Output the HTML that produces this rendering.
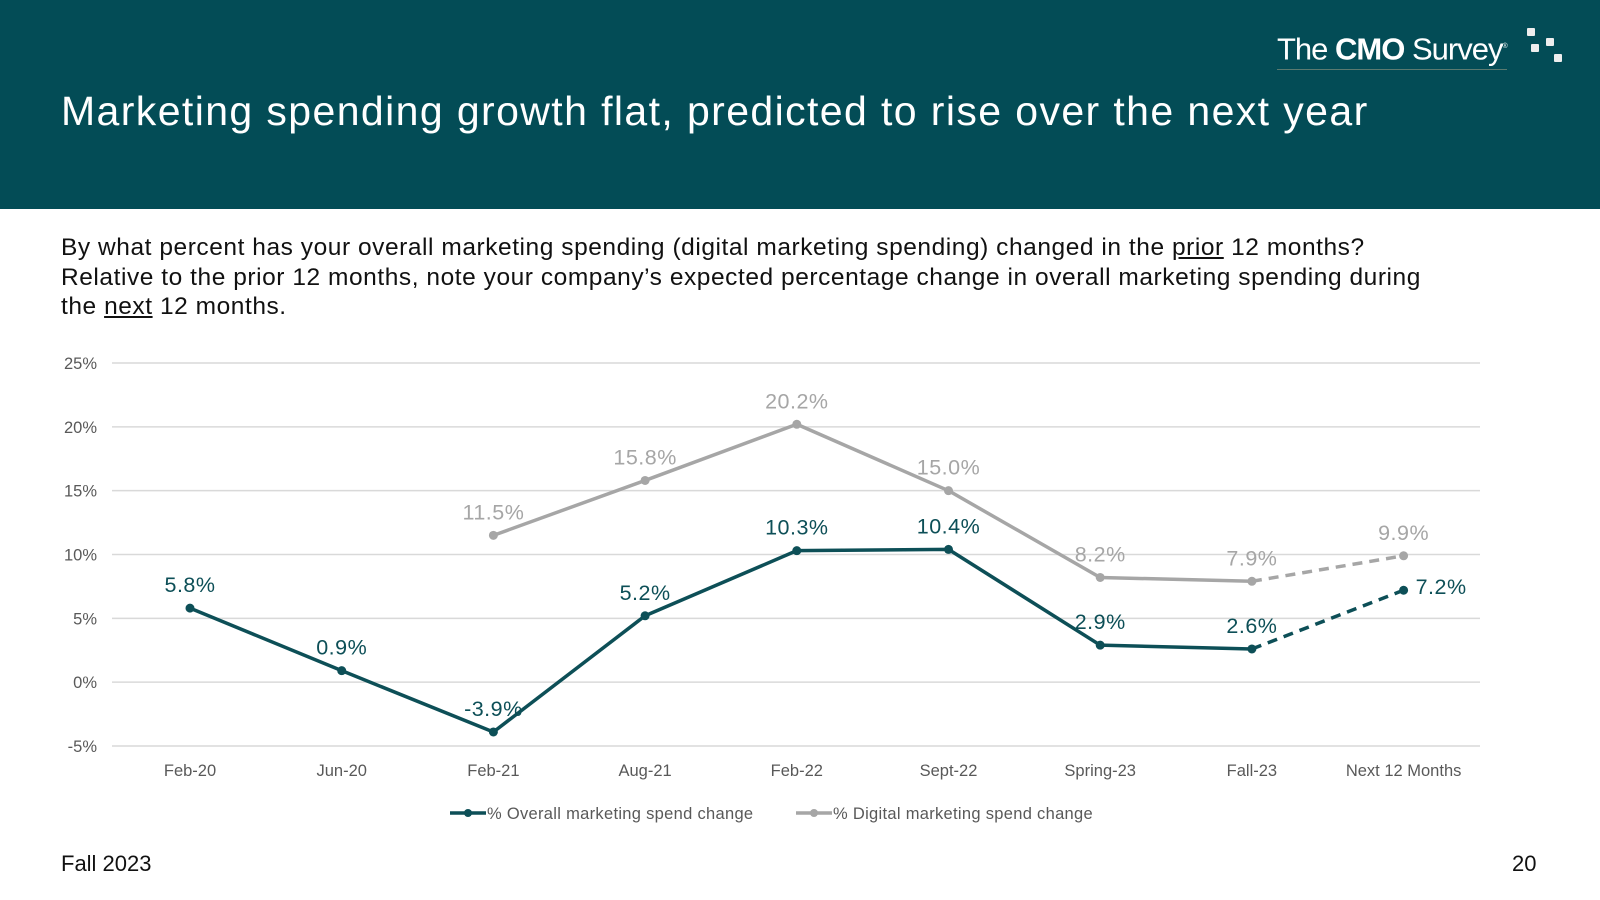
<!DOCTYPE html>
<html><head><meta charset="utf-8"><style>
html,body{margin:0;padding:0;width:1600px;height:900px;overflow:hidden;background:#fff;font-family:"Liberation Sans",sans-serif;}
#hdr{position:absolute;left:0;top:0;width:1600px;height:209px;background:#034c56;}
#title{position:absolute;left:61px;top:88px;color:#fff;font-size:41px;letter-spacing:1.4px;white-space:nowrap;}
#logo{position:absolute;left:1277px;top:27px;color:#fff;font-size:31px;letter-spacing:-1px;white-space:nowrap;border-bottom:1px solid #5a7a70;line-height:40px;}
.sq{position:absolute;background:#eee;width:8px;height:8px;border-radius:1px;}
#q{position:absolute;left:61px;top:233px;font-size:24.5px;letter-spacing:0.55px;line-height:29.5px;color:#111;}
#foot{position:absolute;left:61px;top:851px;font-size:22px;color:#111;}
#pg{position:absolute;left:1512px;top:851px;font-size:22px;color:#111;}
</style></head><body>
<div id="hdr"></div>
<div id="title">Marketing spending growth flat, predicted to rise over the next year</div>
<div id="logo"><span style="font-weight:300">The </span><b>CMO</b><span> Survey</span><sup style="font-size:7px">®</sup></div>
<div class="sq" style="left:1527px;top:28px"></div>
<div class="sq" style="left:1546px;top:38px"></div>
<div class="sq" style="left:1531px;top:44px"></div>
<div class="sq" style="left:1554px;top:54px"></div>
<div id="q">By what percent has your overall marketing spending (digital marketing spending) changed in the <u>prior</u> 12 months?<br>Relative to the prior 12 months, note your company’s expected percentage change in overall marketing spending during<br>the <u>next</u> 12 months.</div>
<svg id="chart" width="1600" height="900" style="position:absolute;left:0;top:0"></svg>
<div id="foot">Fall 2023</div>
<div id="pg">20</div>
<script>
const categories=["Feb-20","Jun-20","Feb-21","Aug-21","Feb-22","Sept-22","Spring-23","Fall-23","Next 12 Months"];
const overall=[5.8,0.9,-3.9,5.2,10.3,10.4,2.9,2.6,7.2];
const digital=[null,null,11.5,15.8,20.2,15.0,8.2,7.9,9.9];
const yTicks=[-5,0,5,10,15,20,25];
const NS="http://www.w3.org/2000/svg";
const svg=document.getElementById('chart');
const x=i=>190+i*151.7;
const y=v=>746-(v+5)*(383/30);
function mk(t,a){const e=document.createElementNS(NS,t);for(const k in a)e.setAttribute(k,a[k]);svg.appendChild(e);return e;}
yTicks.forEach(t=>{
 const g=mk('line',{x1:112,x2:1480,y1:y(t),y2:y(t),stroke:'#d9d9d9','stroke-width':1.5});
 
 
 const l=mk('text',{x:97,y:y(t)+6,'text-anchor':'end','font-size':16.5,fill:'#595959','font-family':'Liberation Sans'});
 l.textContent=t+'%';
 
 
});
categories.forEach((c,i)=>{
 const l=mk('text',{x:x(i),y:776,'text-anchor':'middle','font-size':16.5,fill:'#595959','font-family':'Liberation Sans'});
 l.textContent=c;
 
 
});
function series(data,color,name,labelRight){
 const n=data.length;
 let solid=[],dash=[];
 data.forEach((v,i)=>{if(v==null)return; if(i<=n-2)solid.push(x(i)+','+y(v)); if(i>=n-2)dash.push(x(i)+','+y(v));});
 const p=mk('polyline',{points:solid.join(' '),fill:'none',stroke:color,'stroke-width':3.5,'stroke-linejoin':'round'});
 
 
 const d=mk('polyline',{points:dash.join(' '),fill:'none',stroke:color,'stroke-width':3.5,'stroke-dasharray':'10,7'});
 
 
 data.forEach((v,i)=>{if(v==null)return;
  const c=mk('circle',{cx:x(i),cy:y(v),r:4.5,fill:color});
  
  
  const right=labelRight&&i==n-1;
  const t=mk('text',{x:right?x(i)+12:x(i),y:right?y(v)+4:y(v)-16,'text-anchor':right?'start':'middle','font-size':21.5,'letter-spacing':0.5,fill:color,'font-family':'Liberation Sans'});
  t.textContent=v.toFixed(1)+'%';
  
  
 });
}
series(digital,'#a6a6a6','digital',false);
series(overall,'#0d4f57','overall',true);
[[450,'#0d4f57','% Overall marketing spend change'],[796,'#a6a6a6','% Digital marketing spend change']].forEach(([lx,c,txt])=>{
 const l=mk('line',{x1:lx,x2:lx+36,y1:813,y2:813,stroke:c,'stroke-width':3.5});
 
 
 const d=mk('circle',{cx:lx+18,cy:813,r:4,fill:c});
 
 
 const t=mk('text',{x:lx+37,y:819,'font-size':16.5,'letter-spacing':0.3,fill:'#595959','font-family':'Liberation Sans'});
 t.textContent=txt;
 
 
});
</script>
</body></html>
